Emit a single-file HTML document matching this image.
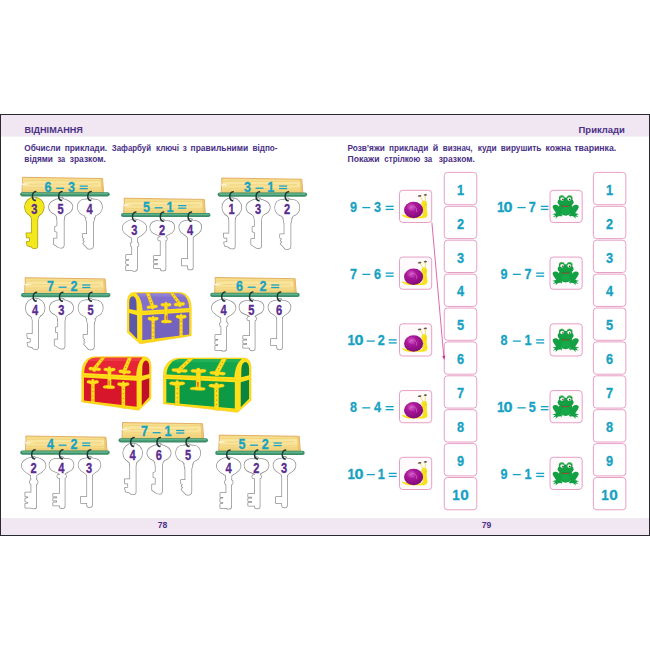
<!DOCTYPE html>
<html lang="uk"><head><meta charset="utf-8"><title>78-79</title>
<style>html,body{margin:0;padding:0;background:#fff;}svg{display:block;}</style></head>
<body>
<svg width="650" height="650" viewBox="0 0 650 650" font-family='"Liberation Sans", sans-serif' font-weight="bold">
<defs>
<linearGradient id="wood" x1="0" y1="0" x2="0" y2="1"><stop offset="0" stop-color="#f3d982"/><stop offset="0.35" stop-color="#f9e7a2"/><stop offset="0.7" stop-color="#f6de90"/><stop offset="1" stop-color="#eecb6e"/></linearGradient>

<g id="kR">
 <circle cx="0" cy="0" r="9.5"/>
 <path d="M-4.6 8 Q-2.6 9.5 -2.6 12 H3 Q3 9.5 5 8 Z"/>
 <path d="M-2.6 8 V26.1 H-8.1 L-7.6 30.3 H-4.6 V34.4 L-7.8 35 L-7 38.4 L-2.6 39.6 Q-2.4 41.2 0.2 41.2 Q3 41.2 3 39 V8 Z"/>
</g>
<g id="kO">
 <ellipse cx="0" cy="0" rx="11.7" ry="8.0"/>
 <circle cx="0.2" cy="-6.9" r="2.6"/>
 <path d="M-7.5 5.5 Q-3.4 8 -3.4 12.5 H3.1 Q3.1 8 7.5 5.5 Z"/>
 <path d="M-3.4 7 V19 L-5.6 19.6 V24.2 L-3.4 24.8 V31.5 H-6.9 V37 L-2 40.3 Q0 41 1.5 40.6 Q3.1 40 3.1 38.5 V7 Z"/>
</g>
<g id="kN">
 <path d="M0 -8.9 C2 -8 3 -7.6 5 -7.6 C9.5 -7.6 12.2 -4 12.2 0 C12.2 4.5 9 8 4.5 8.5 L-4.5 8.5 C-9 8 -12.1 4.5 -12.1 0 C-12.1 -4 -9.5 -7.6 -5 -7.6 C-3 -7.6 -2 -8 0 -8.9 Z"/>
 <path d="M-6 6.5 L-4.2 10.5 L-3.4 10.2 L-3.8 12.2 L-2.8 15.5 H3.3 L4.4 12.4 L3.9 10.4 L4.8 10.6 L6.2 6.5 Z"/>
 <path d="M-2.8 7 V26.9 H-7.1 V30.3 L-5.2 31.5 L-6.6 33 L-5 34.5 L-6.6 36.4 L-1.9 41.3 Q0 41.8 1.6 41.4 Q3.3 40.8 3.3 39 V7 Z"/>
</g>
<g id="kH1">
 <path d="M0 -8.8 C4.5 -8.6 11.9 -6 11.9 -0.2 C11.9 5 5 7.6 2.5 9.4 L-2.6 9.4 C-5 7.6 -11.9 5 -11.9 -0.2 C-11.9 -6 -4.5 -8.6 0 -8.8 Z"/>
 <rect x="-3.7" y="14.0" width="7.6" height="4.2" rx="1.4"/>
 <path d="M-2.7 8.5 V12.6 H-2.4 V26.6 H-8.4 V30.6 H-5.6 V32 L-8.4 32.4 V35.4 L-5.6 36 V37.4 L-8.4 37.8 V41.8 H-2.4 Q-1.6 42.5 0 42.5 Q2.5 42.5 2.5 40.4 V12.6 H2.7 V8.5 Z"/>
</g>
<g id="kH2">
 <path d="M0 -5.6 C1.5 -7.6 6 -7.8 9 -6.4 C12.8 -4.3 13 0.9 10 3.8 C7.5 5.9 4 6.4 3.2 8.0 L-1.7 8.0 C-3.4 6.4 -7.5 5.9 -10 3.8 C-13 0.9 -12.8 -4.3 -9 -6.4 C-6 -7.8 -1.5 -7.6 0 -5.6 Z"/>
 <circle cx="0.2" cy="-6.6" r="2.2"/>
 <rect x="-4.2" y="8.8" width="8.8" height="3.2" rx="1.4"/>
 <path d="M-1.7 7.6 V27.7 H-8.3 V30.5 H-4.5 V32.2 H-8.3 V34.6 H-4.5 V36.4 H-8.3 V39.5 H-1.7 V40.5 Q-1.7 42.2 0.8 42.2 Q3.2 42.2 3.2 40.5 V7.6 Z"/>
</g>
<g id="kH3">
 <path d="M0 -7.8 C3 -7.8 7 -7.6 9.2 -5.8 C12.2 -3 11.8 1.6 8.6 4.4 C6.3 6.4 3.4 7.2 2.6 9.6 L-2.2 9.6 C-3 7.2 -5.9 6.4 -8.2 4.4 C-11.4 1.6 -11.8 -3 -8.8 -5.8 C-6.6 -7.6 -3 -7.8 0 -7.8 Z"/>
 <circle cx="0.2" cy="-7.4" r="2.2"/>
 <path d="M-2.2 9 V30.7 H-8.3 V37 H-2.2 V39.5 Q-2.2 41.1 0.3 41.1 Q2.7 41.1 2.7 39.5 V9 Z"/>
</g>


<radialGradient id="shellg" cx="0.38" cy="0.32" r="0.75">
 <stop offset="0" stop-color="#d65cc6"/><stop offset="0.35" stop-color="#a8179a"/><stop offset="1" stop-color="#7c0872"/>
</radialGradient>
<g id="snail"><g transform="scale(0.064617) translate(-68,-65)">
 <path d="M96 440 C120 444 150 450 190 458 L400 470 C420 462 432 442 432 402 C432 352 408 322 406 282 C404 246 424 224 458 227 C494 232 498 262 492 305 C486 350 494 385 500 420 C508 462 485 494 440 496 L205 496 C160 492 118 476 96 440 Z" fill="#f6e31e"/>
 <path d="M432 236 L388 160" stroke="#e4d32a" stroke-width="10" stroke-linecap="round"/>
 <path d="M470 232 L466 148" stroke="#e4d32a" stroke-width="10" stroke-linecap="round"/>
 <ellipse cx="380" cy="152" rx="28" ry="14" fill="#6b5a45" transform="rotate(-8 380 152)"/>
 <ellipse cx="468" cy="136" rx="26" ry="14" fill="#6b5a45" transform="rotate(-8 468 136)"/>
 <ellipse cx="286" cy="370" rx="148" ry="128" fill="url(#shellg)"/>
 <path d="M228 352 C236 312 290 300 322 340 C336 358 338 380 334 396" fill="none" stroke="#d879cf" stroke-width="11" stroke-linecap="round" opacity="0.85"/>
 <path d="M250 372 C262 348 292 350 300 378" fill="none" stroke="#d879cf" stroke-width="9" stroke-linecap="round" opacity="0.7"/>
 <circle cx="466" cy="280" r="6" fill="#a08a20"/>
 <path d="M452 300 C462 310 474 308 480 298" fill="none" stroke="#c8a818" stroke-width="4"/>
</g></g>
<g id="frog"><g transform="scale(0.064617) translate(-62,-54)">
 <g fill="#12a043">
  <!-- hind legs -->
  <path d="M196 300 C150 262 96 280 104 318 C112 352 150 392 172 430 L236 404 Z"/>
  <path d="M414 300 C460 262 514 280 506 318 C498 352 460 392 438 430 L374 404 Z"/>
  <!-- feet -->
  <path d="M214 398 C170 404 125 414 98 424 L142 438 L106 470 L156 456 L148 492 L188 456 L236 452 L226 474 L256 440 Z"/>
  <path d="M396 398 C440 404 485 414 512 424 L468 438 L504 470 L454 456 L462 492 L422 456 L374 452 L384 474 L354 440 Z"/>
  <ellipse cx="304" cy="338" rx="112" ry="108"/>
  <ellipse cx="304" cy="238" rx="124" ry="74"/>
  <circle cx="244" cy="176" r="44"/>
  <circle cx="366" cy="176" r="44"/>
 </g>
 <path d="M206 160 C220 132 262 128 282 152" fill="none" stroke="#8fd17a" stroke-width="9"/>
 <path d="M330 152 C350 128 392 132 404 160" fill="none" stroke="#8fd17a" stroke-width="9"/>
 <ellipse cx="250" cy="190" rx="30" ry="27" fill="#f4f4ec"/>
 <ellipse cx="360" cy="190" rx="30" ry="27" fill="#f4f4ec"/>
 <circle cx="262" cy="196" r="12" fill="#2a2320"/>
 <circle cx="366" cy="196" r="12" fill="#2a2320"/>
 <path d="M232 286 C262 300 342 300 372 284 C350 322 262 326 232 286 Z" fill="#b1442f"/>
 <path d="M222 280 C260 300 346 300 382 278" fill="none" stroke="#0b7d33" stroke-width="5"/>
 <ellipse cx="304" cy="370" rx="70" ry="56" fill="#18ab4b" opacity="0.7"/>
</g></g>

</defs>
<rect x="0" y="114" width="650" height="422" fill="#2a2a2e"/>
<rect x="1" y="115" width="648" height="420" fill="#ffffff"/>
<rect x="1" y="115" width="648" height="21.6" fill="#f1e7f2"/>
<rect x="1" y="518" width="648" height="17" fill="#f1e7f2"/>
<text x="24.5" y="133" font-size="8.3" fill="#4a2f86" textLength="58.4" lengthAdjust="spacingAndGlyphs">ВІДНІМАННЯ</text>
<text x="578.6" y="133.4" font-size="8.3" fill="#4a2f86" textLength="46.2" lengthAdjust="spacingAndGlyphs">Приклади</text>
<text y="151.1" font-size="8.3" fill="#4a2f86"><tspan x="24.35" textLength="36.20" lengthAdjust="spacingAndGlyphs">Обчисли</tspan><tspan x="64.65" textLength="42.50" lengthAdjust="spacingAndGlyphs">приклади.</tspan><tspan x="111.75" textLength="39.30" lengthAdjust="spacingAndGlyphs">Зафарбуй</tspan><tspan x="155.95" textLength="23.10" lengthAdjust="spacingAndGlyphs">ключі</tspan><tspan x="182.75" textLength="4.10" lengthAdjust="spacingAndGlyphs">з</tspan><tspan x="190.55" textLength="57.70" lengthAdjust="spacingAndGlyphs">правильними</tspan><tspan x="252.45" textLength="25.10" lengthAdjust="spacingAndGlyphs">відпо-</tspan></text>
<text y="162.2" font-size="8.3" fill="#4a2f86"><tspan x="24.35" textLength="28.50" lengthAdjust="spacingAndGlyphs">відями</tspan><tspan x="57.45" textLength="7.70" lengthAdjust="spacingAndGlyphs">за</tspan><tspan x="69.75" textLength="36.10" lengthAdjust="spacingAndGlyphs">зразком.</tspan></text>
<text y="151.1" font-size="8.3" fill="#4a2f86"><tspan x="347.45" textLength="37.40" lengthAdjust="spacingAndGlyphs">Розв’яжи</tspan><tspan x="388.95" textLength="39.30" lengthAdjust="spacingAndGlyphs">приклади</tspan><tspan x="432.65" textLength="5.50" lengthAdjust="spacingAndGlyphs">й</tspan><tspan x="442.85" textLength="29.70" lengthAdjust="spacingAndGlyphs">визнач,</tspan><tspan x="477.75" textLength="19.00" lengthAdjust="spacingAndGlyphs">куди</tspan><tspan x="500.75" textLength="40.70" lengthAdjust="spacingAndGlyphs">вирушить</tspan><tspan x="545.55" textLength="25.50" lengthAdjust="spacingAndGlyphs">кожна</tspan><tspan x="574.25" textLength="42.00" lengthAdjust="spacingAndGlyphs">тваринка.</tspan></text>
<text y="161.9" font-size="8.3" fill="#4a2f86"><tspan x="347.45" textLength="32.00" lengthAdjust="spacingAndGlyphs">Покажи</tspan><tspan x="384.35" textLength="35.90" lengthAdjust="spacingAndGlyphs">стрілкою</tspan><tspan x="424.05" textLength="8.20" lengthAdjust="spacingAndGlyphs">за</tspan><tspan x="438.65" textLength="36.20" lengthAdjust="spacingAndGlyphs">зразком.</tspan></text>
<text x="162.6" y="527.9" font-size="8.6" fill="#4a2f86" text-anchor="middle">78</text>
<text x="486.6" y="527.9" font-size="8.6" fill="#4a2f86" text-anchor="middle">79</text>
<g transform="translate(21.80,177.30)">
<path d="M0.7 0.0 L80.7 1.2 L81.9 15.50 L0.2 15.50 L0.5 8.0 L-0.5 7.2 L0.9 6.2 Z" fill="url(#wood)" stroke="#dd9f50" stroke-width="0.8" stroke-linejoin="round"/>
<path d="M2 3.6 C20 2.2 40 4.4 79.9 3.0 M2 10.6 C25 9.4 50 11.8 79.9 10.4 M8 7.0 C30 6.0 55 7.8 75.9 6.6 M3 12.8 C30 12.2 50 13.4 79.9 12.6" fill="none" stroke="#efcf74" stroke-width="1.0" opacity="0.75"/>
<path d="M78.7 1.3 L80.7 1.3 L81.80000000000001 15.50 L79.5 15.50 Z" fill="#e9bd68" opacity="0.75"/>
<path d="M-0.8 7.1 L5 6.7" stroke="#fff" stroke-width="0.9"/>
</g>
<text transform="translate(48.00,192.00) scale(0.82,1)" text-anchor="middle" font-size="15.3" fill="#17a2c3" stroke="#17a2c3" stroke-width="0.3">6</text>
<rect x="56.20" y="187.65" width="7.90" height="1.3" fill="#17a2c3"/>
<text transform="translate(71.40,192.00) scale(0.82,1)" text-anchor="middle" font-size="15.3" fill="#17a2c3" stroke="#17a2c3" stroke-width="0.3">3</text>
<rect x="79.70" y="185.53" width="8.10" height="1.25" fill="#17a2c3"/><rect x="79.70" y="188.03" width="8.10" height="1.25" fill="#17a2c3"/>
<line x1="22.30" y1="194.30" x2="107.60" y2="194.30" stroke="#3c8e69" stroke-width="4.2" stroke-linecap="round"/>
<line x1="22.50" y1="193.80" x2="107.40" y2="193.80" stroke="#5db28a" stroke-width="1.6" stroke-linecap="round"/>
<use href="#kR" x="34.40" y="207.10" fill="#a99d12" stroke="#a99d12" stroke-width="1.5" stroke-linejoin="round"/>
<use href="#kR" x="34.40" y="207.10" fill="#f3e81e"/>
<circle cx="34.70" cy="198.90" r="1.4" fill="#fff" stroke="#8a8a8a" stroke-width="0.6"/>
<path d="M35.80 191.40 C31.60 191.70 31.20 199.50 35.20 200.50" fill="none" stroke="#1e3836" stroke-width="1.5" stroke-linecap="round"/>
<text transform="translate(34.30,214.10) scale(0.74,1)" text-anchor="middle" font-size="15.0" fill="#5a2c91" stroke="#5a2c91" stroke-width="0.35">3</text>
<use href="#kO" x="60.70" y="207.10" fill="#909090" stroke="#909090" stroke-width="1.5" stroke-linejoin="round"/>
<use href="#kO" x="60.70" y="207.10" fill="#fff"/>
<circle cx="61.00" cy="198.90" r="1.4" fill="#fff" stroke="#8a8a8a" stroke-width="0.6"/>
<path d="M62.10 191.40 C57.90 191.70 57.50 199.50 61.50 200.50" fill="none" stroke="#1e3836" stroke-width="1.5" stroke-linecap="round"/>
<text transform="translate(60.60,214.10) scale(0.74,1)" text-anchor="middle" font-size="15.0" fill="#5a2c91" stroke="#5a2c91" stroke-width="0.35">5</text>
<use href="#kN" x="89.80" y="207.10" fill="#909090" stroke="#909090" stroke-width="1.5" stroke-linejoin="round"/>
<use href="#kN" x="89.80" y="207.10" fill="#fff"/>
<circle cx="90.10" cy="198.90" r="1.4" fill="#fff" stroke="#8a8a8a" stroke-width="0.6"/>
<path d="M91.20 191.40 C87.00 191.70 86.60 199.50 90.60 200.50" fill="none" stroke="#1e3836" stroke-width="1.5" stroke-linecap="round"/>
<text transform="translate(89.70,214.10) scale(0.74,1)" text-anchor="middle" font-size="15.0" fill="#5a2c91" stroke="#5a2c91" stroke-width="0.35">4</text>
<g transform="translate(123.50,198.20)">
<path d="M0.7 0.0 L80.7 1.2 L81.9 15.30 L0.2 15.30 L0.5 8.0 L-0.5 7.2 L0.9 6.2 Z" fill="url(#wood)" stroke="#dd9f50" stroke-width="0.8" stroke-linejoin="round"/>
<path d="M2 3.6 C20 2.2 40 4.4 79.9 3.0 M2 10.6 C25 9.4 50 11.8 79.9 10.4 M8 7.0 C30 6.0 55 7.8 75.9 6.6 M3 12.8 C30 12.2 50 13.4 79.9 12.6" fill="none" stroke="#efcf74" stroke-width="1.0" opacity="0.75"/>
<path d="M78.7 1.3 L80.7 1.3 L81.80000000000001 15.30 L79.5 15.30 Z" fill="#e9bd68" opacity="0.75"/>
<path d="M-0.8 7.1 L5 6.7" stroke="#fff" stroke-width="0.9"/>
</g>
<text transform="translate(146.50,211.50) scale(0.82,1)" text-anchor="middle" font-size="15.3" fill="#17a2c3" stroke="#17a2c3" stroke-width="0.3">5</text>
<rect x="154.70" y="207.15" width="7.90" height="1.3" fill="#17a2c3"/>
<text transform="translate(169.90,211.50) scale(0.82,1)" text-anchor="middle" font-size="15.3" fill="#17a2c3" stroke="#17a2c3" stroke-width="0.3">1</text>
<rect x="178.20" y="205.03" width="8.10" height="1.25" fill="#17a2c3"/><rect x="178.20" y="207.53" width="8.10" height="1.25" fill="#17a2c3"/>
<line x1="123.10" y1="215.00" x2="208.40" y2="215.00" stroke="#3c8e69" stroke-width="4.2" stroke-linecap="round"/>
<line x1="123.30" y1="214.50" x2="208.20" y2="214.50" stroke="#5db28a" stroke-width="1.6" stroke-linecap="round"/>
<use href="#kH1" x="134.50" y="228.40" fill="#909090" stroke="#909090" stroke-width="1.5" stroke-linejoin="round"/>
<use href="#kH1" x="134.50" y="228.40" fill="#fff"/>
<circle cx="134.80" cy="220.20" r="1.4" fill="#fff" stroke="#8a8a8a" stroke-width="0.6"/>
<path d="M135.90 212.10 C131.70 212.40 131.30 220.20 135.30 221.20" fill="none" stroke="#1e3836" stroke-width="1.5" stroke-linecap="round"/>
<text transform="translate(134.40,235.40) scale(0.74,1)" text-anchor="middle" font-size="15.0" fill="#5a2c91" stroke="#5a2c91" stroke-width="0.35">3</text>
<use href="#kH2" x="162.30" y="228.40" fill="#909090" stroke="#909090" stroke-width="1.5" stroke-linejoin="round"/>
<use href="#kH2" x="162.30" y="228.40" fill="#fff"/>
<circle cx="162.60" cy="220.20" r="1.4" fill="#fff" stroke="#8a8a8a" stroke-width="0.6"/>
<path d="M163.70 212.10 C159.50 212.40 159.10 220.20 163.10 221.20" fill="none" stroke="#1e3836" stroke-width="1.5" stroke-linecap="round"/>
<text transform="translate(162.20,235.40) scale(0.74,1)" text-anchor="middle" font-size="15.0" fill="#5a2c91" stroke="#5a2c91" stroke-width="0.35">2</text>
<use href="#kH3" x="190.10" y="228.40" fill="#909090" stroke="#909090" stroke-width="1.5" stroke-linejoin="round"/>
<use href="#kH3" x="190.10" y="228.40" fill="#fff"/>
<circle cx="190.40" cy="220.20" r="1.4" fill="#fff" stroke="#8a8a8a" stroke-width="0.6"/>
<path d="M191.50 212.10 C187.30 212.40 186.90 220.20 190.90 221.20" fill="none" stroke="#1e3836" stroke-width="1.5" stroke-linecap="round"/>
<text transform="translate(190.00,235.40) scale(0.74,1)" text-anchor="middle" font-size="15.0" fill="#5a2c91" stroke="#5a2c91" stroke-width="0.35">4</text>
<g transform="translate(221.00,178.00)">
<path d="M0.7 0.0 L80.7 1.2 L81.9 15.10 L0.2 15.10 L0.5 8.0 L-0.5 7.2 L0.9 6.2 Z" fill="url(#wood)" stroke="#dd9f50" stroke-width="0.8" stroke-linejoin="round"/>
<path d="M2 3.6 C20 2.2 40 4.4 79.9 3.0 M2 10.6 C25 9.4 50 11.8 79.9 10.4 M8 7.0 C30 6.0 55 7.8 75.9 6.6 M3 12.8 C30 12.2 50 13.4 79.9 12.6" fill="none" stroke="#efcf74" stroke-width="1.0" opacity="0.75"/>
<path d="M78.7 1.3 L80.7 1.3 L81.80000000000001 15.10 L79.5 15.10 Z" fill="#e9bd68" opacity="0.75"/>
<path d="M-0.8 7.1 L5 6.7" stroke="#fff" stroke-width="0.9"/>
</g>
<text transform="translate(247.40,191.90) scale(0.82,1)" text-anchor="middle" font-size="15.3" fill="#17a2c3" stroke="#17a2c3" stroke-width="0.3">3</text>
<rect x="255.60" y="187.55" width="7.90" height="1.3" fill="#17a2c3"/>
<text transform="translate(270.80,191.90) scale(0.82,1)" text-anchor="middle" font-size="15.3" fill="#17a2c3" stroke="#17a2c3" stroke-width="0.3">1</text>
<rect x="279.10" y="185.43" width="8.10" height="1.25" fill="#17a2c3"/><rect x="279.10" y="187.93" width="8.10" height="1.25" fill="#17a2c3"/>
<line x1="219.70" y1="194.60" x2="305.00" y2="194.60" stroke="#3c8e69" stroke-width="4.2" stroke-linecap="round"/>
<line x1="219.90" y1="194.10" x2="304.80" y2="194.10" stroke="#5db28a" stroke-width="1.6" stroke-linecap="round"/>
<use href="#kR" x="231.80" y="207.40" fill="#909090" stroke="#909090" stroke-width="1.5" stroke-linejoin="round"/>
<use href="#kR" x="231.80" y="207.40" fill="#fff"/>
<circle cx="232.10" cy="199.20" r="1.4" fill="#fff" stroke="#8a8a8a" stroke-width="0.6"/>
<path d="M233.20 191.70 C229.00 192.00 228.60 199.80 232.60 200.80" fill="none" stroke="#1e3836" stroke-width="1.5" stroke-linecap="round"/>
<text transform="translate(231.70,214.40) scale(0.74,1)" text-anchor="middle" font-size="15.0" fill="#5a2c91" stroke="#5a2c91" stroke-width="0.35">1</text>
<use href="#kO" x="258.10" y="207.40" fill="#909090" stroke="#909090" stroke-width="1.5" stroke-linejoin="round"/>
<use href="#kO" x="258.10" y="207.40" fill="#fff"/>
<circle cx="258.40" cy="199.20" r="1.4" fill="#fff" stroke="#8a8a8a" stroke-width="0.6"/>
<path d="M259.50 191.70 C255.30 192.00 254.90 199.80 258.90 200.80" fill="none" stroke="#1e3836" stroke-width="1.5" stroke-linecap="round"/>
<text transform="translate(258.00,214.40) scale(0.74,1)" text-anchor="middle" font-size="15.0" fill="#5a2c91" stroke="#5a2c91" stroke-width="0.35">3</text>
<use href="#kN" x="287.20" y="207.40" fill="#909090" stroke="#909090" stroke-width="1.5" stroke-linejoin="round"/>
<use href="#kN" x="287.20" y="207.40" fill="#fff"/>
<circle cx="287.50" cy="199.20" r="1.4" fill="#fff" stroke="#8a8a8a" stroke-width="0.6"/>
<path d="M288.60 191.70 C284.40 192.00 284.00 199.80 288.00 200.80" fill="none" stroke="#1e3836" stroke-width="1.5" stroke-linecap="round"/>
<text transform="translate(287.10,214.40) scale(0.74,1)" text-anchor="middle" font-size="15.0" fill="#5a2c91" stroke="#5a2c91" stroke-width="0.35">2</text>
<g transform="translate(24.40,277.70)">
<path d="M0.7 0.0 L80.7 1.2 L81.9 15.90 L0.2 15.90 L0.5 8.0 L-0.5 7.2 L0.9 6.2 Z" fill="url(#wood)" stroke="#dd9f50" stroke-width="0.8" stroke-linejoin="round"/>
<path d="M2 3.6 C20 2.2 40 4.4 79.9 3.0 M2 10.6 C25 9.4 50 11.8 79.9 10.4 M8 7.0 C30 6.0 55 7.8 75.9 6.6 M3 12.8 C30 12.2 50 13.4 79.9 12.6" fill="none" stroke="#efcf74" stroke-width="1.0" opacity="0.75"/>
<path d="M78.7 1.3 L80.7 1.3 L81.80000000000001 15.90 L79.5 15.90 Z" fill="#e9bd68" opacity="0.75"/>
<path d="M-0.8 7.1 L5 6.7" stroke="#fff" stroke-width="0.9"/>
</g>
<text transform="translate(50.50,290.90) scale(0.82,1)" text-anchor="middle" font-size="15.3" fill="#17a2c3" stroke="#17a2c3" stroke-width="0.3">7</text>
<rect x="58.70" y="286.55" width="7.90" height="1.3" fill="#17a2c3"/>
<text transform="translate(73.90,290.90) scale(0.82,1)" text-anchor="middle" font-size="15.3" fill="#17a2c3" stroke="#17a2c3" stroke-width="0.3">2</text>
<rect x="82.20" y="284.42" width="8.10" height="1.25" fill="#17a2c3"/><rect x="82.20" y="286.92" width="8.10" height="1.25" fill="#17a2c3"/>
<line x1="23.10" y1="295.10" x2="108.40" y2="295.10" stroke="#3c8e69" stroke-width="4.2" stroke-linecap="round"/>
<line x1="23.30" y1="294.60" x2="108.20" y2="294.60" stroke="#5db28a" stroke-width="1.6" stroke-linecap="round"/>
<use href="#kR" x="35.20" y="307.90" fill="#909090" stroke="#909090" stroke-width="1.5" stroke-linejoin="round"/>
<use href="#kR" x="35.20" y="307.90" fill="#fff"/>
<circle cx="35.50" cy="299.70" r="1.4" fill="#fff" stroke="#8a8a8a" stroke-width="0.6"/>
<path d="M36.60 292.20 C32.40 292.50 32.00 300.30 36.00 301.30" fill="none" stroke="#1e3836" stroke-width="1.5" stroke-linecap="round"/>
<text transform="translate(35.10,314.90) scale(0.74,1)" text-anchor="middle" font-size="15.0" fill="#5a2c91" stroke="#5a2c91" stroke-width="0.35">4</text>
<use href="#kO" x="61.50" y="307.90" fill="#909090" stroke="#909090" stroke-width="1.5" stroke-linejoin="round"/>
<use href="#kO" x="61.50" y="307.90" fill="#fff"/>
<circle cx="61.80" cy="299.70" r="1.4" fill="#fff" stroke="#8a8a8a" stroke-width="0.6"/>
<path d="M62.90 292.20 C58.70 292.50 58.30 300.30 62.30 301.30" fill="none" stroke="#1e3836" stroke-width="1.5" stroke-linecap="round"/>
<text transform="translate(61.40,314.90) scale(0.74,1)" text-anchor="middle" font-size="15.0" fill="#5a2c91" stroke="#5a2c91" stroke-width="0.35">3</text>
<use href="#kN" x="90.60" y="307.90" fill="#909090" stroke="#909090" stroke-width="1.5" stroke-linejoin="round"/>
<use href="#kN" x="90.60" y="307.90" fill="#fff"/>
<circle cx="90.90" cy="299.70" r="1.4" fill="#fff" stroke="#8a8a8a" stroke-width="0.6"/>
<path d="M92.00 292.20 C87.80 292.50 87.40 300.30 91.40 301.30" fill="none" stroke="#1e3836" stroke-width="1.5" stroke-linecap="round"/>
<text transform="translate(90.50,314.90) scale(0.74,1)" text-anchor="middle" font-size="15.0" fill="#5a2c91" stroke="#5a2c91" stroke-width="0.35">5</text>
<g transform="translate(214.40,277.50)">
<path d="M0.7 0.0 L80.7 1.2 L81.9 15.90 L0.2 15.90 L0.5 8.0 L-0.5 7.2 L0.9 6.2 Z" fill="url(#wood)" stroke="#dd9f50" stroke-width="0.8" stroke-linejoin="round"/>
<path d="M2 3.6 C20 2.2 40 4.4 79.9 3.0 M2 10.6 C25 9.4 50 11.8 79.9 10.4 M8 7.0 C30 6.0 55 7.8 75.9 6.6 M3 12.8 C30 12.2 50 13.4 79.9 12.6" fill="none" stroke="#efcf74" stroke-width="1.0" opacity="0.75"/>
<path d="M78.7 1.3 L80.7 1.3 L81.80000000000001 15.90 L79.5 15.90 Z" fill="#e9bd68" opacity="0.75"/>
<path d="M-0.8 7.1 L5 6.7" stroke="#fff" stroke-width="0.9"/>
</g>
<text transform="translate(239.50,290.90) scale(0.82,1)" text-anchor="middle" font-size="15.3" fill="#17a2c3" stroke="#17a2c3" stroke-width="0.3">6</text>
<rect x="247.70" y="286.55" width="7.90" height="1.3" fill="#17a2c3"/>
<text transform="translate(262.90,290.90) scale(0.82,1)" text-anchor="middle" font-size="15.3" fill="#17a2c3" stroke="#17a2c3" stroke-width="0.3">2</text>
<rect x="271.20" y="284.42" width="8.10" height="1.25" fill="#17a2c3"/><rect x="271.20" y="286.92" width="8.10" height="1.25" fill="#17a2c3"/>
<line x1="212.30" y1="294.90" x2="297.60" y2="294.90" stroke="#3c8e69" stroke-width="4.2" stroke-linecap="round"/>
<line x1="212.50" y1="294.40" x2="297.40" y2="294.40" stroke="#5db28a" stroke-width="1.6" stroke-linecap="round"/>
<use href="#kH1" x="223.70" y="308.30" fill="#909090" stroke="#909090" stroke-width="1.5" stroke-linejoin="round"/>
<use href="#kH1" x="223.70" y="308.30" fill="#fff"/>
<circle cx="224.00" cy="300.10" r="1.4" fill="#fff" stroke="#8a8a8a" stroke-width="0.6"/>
<path d="M225.10 292.00 C220.90 292.30 220.50 300.10 224.50 301.10" fill="none" stroke="#1e3836" stroke-width="1.5" stroke-linecap="round"/>
<text transform="translate(223.60,315.30) scale(0.74,1)" text-anchor="middle" font-size="15.0" fill="#5a2c91" stroke="#5a2c91" stroke-width="0.35">4</text>
<use href="#kH2" x="251.50" y="308.30" fill="#909090" stroke="#909090" stroke-width="1.5" stroke-linejoin="round"/>
<use href="#kH2" x="251.50" y="308.30" fill="#fff"/>
<circle cx="251.80" cy="300.10" r="1.4" fill="#fff" stroke="#8a8a8a" stroke-width="0.6"/>
<path d="M252.90 292.00 C248.70 292.30 248.30 300.10 252.30 301.10" fill="none" stroke="#1e3836" stroke-width="1.5" stroke-linecap="round"/>
<text transform="translate(251.40,315.30) scale(0.74,1)" text-anchor="middle" font-size="15.0" fill="#5a2c91" stroke="#5a2c91" stroke-width="0.35">5</text>
<use href="#kH3" x="279.30" y="308.30" fill="#909090" stroke="#909090" stroke-width="1.5" stroke-linejoin="round"/>
<use href="#kH3" x="279.30" y="308.30" fill="#fff"/>
<circle cx="279.60" cy="300.10" r="1.4" fill="#fff" stroke="#8a8a8a" stroke-width="0.6"/>
<path d="M280.70 292.00 C276.50 292.30 276.10 300.10 280.10 301.10" fill="none" stroke="#1e3836" stroke-width="1.5" stroke-linecap="round"/>
<text transform="translate(279.20,315.30) scale(0.74,1)" text-anchor="middle" font-size="15.0" fill="#5a2c91" stroke="#5a2c91" stroke-width="0.35">6</text>
<g transform="translate(25.20,436.00)">
<path d="M0.7 0.0 L80.7 1.2 L81.9 15.10 L0.2 15.10 L0.5 8.0 L-0.5 7.2 L0.9 6.2 Z" fill="url(#wood)" stroke="#dd9f50" stroke-width="0.8" stroke-linejoin="round"/>
<path d="M2 3.6 C20 2.2 40 4.4 79.9 3.0 M2 10.6 C25 9.4 50 11.8 79.9 10.4 M8 7.0 C30 6.0 55 7.8 75.9 6.6 M3 12.8 C30 12.2 50 13.4 79.9 12.6" fill="none" stroke="#efcf74" stroke-width="1.0" opacity="0.75"/>
<path d="M78.7 1.3 L80.7 1.3 L81.80000000000001 15.10 L79.5 15.10 Z" fill="#e9bd68" opacity="0.75"/>
<path d="M-0.8 7.1 L5 6.7" stroke="#fff" stroke-width="0.9"/>
</g>
<text transform="translate(50.50,448.90) scale(0.82,1)" text-anchor="middle" font-size="15.3" fill="#17a2c3" stroke="#17a2c3" stroke-width="0.3">4</text>
<rect x="58.70" y="444.55" width="7.90" height="1.3" fill="#17a2c3"/>
<text transform="translate(73.90,448.90) scale(0.82,1)" text-anchor="middle" font-size="15.3" fill="#17a2c3" stroke="#17a2c3" stroke-width="0.3">2</text>
<rect x="82.20" y="442.42" width="8.10" height="1.25" fill="#17a2c3"/><rect x="82.20" y="444.92" width="8.10" height="1.25" fill="#17a2c3"/>
<line x1="22.30" y1="452.60" x2="107.60" y2="452.60" stroke="#3c8e69" stroke-width="4.2" stroke-linecap="round"/>
<line x1="22.50" y1="452.10" x2="107.40" y2="452.10" stroke="#5db28a" stroke-width="1.6" stroke-linecap="round"/>
<use href="#kH1" x="33.70" y="466.00" fill="#909090" stroke="#909090" stroke-width="1.5" stroke-linejoin="round"/>
<use href="#kH1" x="33.70" y="466.00" fill="#fff"/>
<circle cx="34.00" cy="457.80" r="1.4" fill="#fff" stroke="#8a8a8a" stroke-width="0.6"/>
<path d="M35.10 449.70 C30.90 450.00 30.50 457.80 34.50 458.80" fill="none" stroke="#1e3836" stroke-width="1.5" stroke-linecap="round"/>
<text transform="translate(33.60,473.00) scale(0.74,1)" text-anchor="middle" font-size="15.0" fill="#5a2c91" stroke="#5a2c91" stroke-width="0.35">2</text>
<use href="#kH2" x="61.50" y="466.00" fill="#909090" stroke="#909090" stroke-width="1.5" stroke-linejoin="round"/>
<use href="#kH2" x="61.50" y="466.00" fill="#fff"/>
<circle cx="61.80" cy="457.80" r="1.4" fill="#fff" stroke="#8a8a8a" stroke-width="0.6"/>
<path d="M62.90 449.70 C58.70 450.00 58.30 457.80 62.30 458.80" fill="none" stroke="#1e3836" stroke-width="1.5" stroke-linecap="round"/>
<text transform="translate(61.40,473.00) scale(0.74,1)" text-anchor="middle" font-size="15.0" fill="#5a2c91" stroke="#5a2c91" stroke-width="0.35">4</text>
<use href="#kH3" x="89.30" y="466.00" fill="#909090" stroke="#909090" stroke-width="1.5" stroke-linejoin="round"/>
<use href="#kH3" x="89.30" y="466.00" fill="#fff"/>
<circle cx="89.60" cy="457.80" r="1.4" fill="#fff" stroke="#8a8a8a" stroke-width="0.6"/>
<path d="M90.70 449.70 C86.50 450.00 86.10 457.80 90.10 458.80" fill="none" stroke="#1e3836" stroke-width="1.5" stroke-linecap="round"/>
<text transform="translate(89.20,473.00) scale(0.74,1)" text-anchor="middle" font-size="15.0" fill="#5a2c91" stroke="#5a2c91" stroke-width="0.35">3</text>
<g transform="translate(121.80,422.50)">
<path d="M0.7 0.0 L80.7 1.2 L81.9 16.30 L0.2 16.30 L0.5 8.0 L-0.5 7.2 L0.9 6.2 Z" fill="url(#wood)" stroke="#dd9f50" stroke-width="0.8" stroke-linejoin="round"/>
<path d="M2 3.6 C20 2.2 40 4.4 79.9 3.0 M2 10.6 C25 9.4 50 11.8 79.9 10.4 M8 7.0 C30 6.0 55 7.8 75.9 6.6 M3 12.8 C30 12.2 50 13.4 79.9 12.6" fill="none" stroke="#efcf74" stroke-width="1.0" opacity="0.75"/>
<path d="M78.7 1.3 L80.7 1.3 L81.80000000000001 16.30 L79.5 16.30 Z" fill="#e9bd68" opacity="0.75"/>
<path d="M-0.8 7.1 L5 6.7" stroke="#fff" stroke-width="0.9"/>
</g>
<text transform="translate(144.50,436.40) scale(0.82,1)" text-anchor="middle" font-size="15.3" fill="#17a2c3" stroke="#17a2c3" stroke-width="0.3">7</text>
<rect x="152.70" y="432.05" width="7.90" height="1.3" fill="#17a2c3"/>
<text transform="translate(167.90,436.40) scale(0.82,1)" text-anchor="middle" font-size="15.3" fill="#17a2c3" stroke="#17a2c3" stroke-width="0.3">1</text>
<rect x="176.20" y="429.92" width="8.10" height="1.25" fill="#17a2c3"/><rect x="176.20" y="432.42" width="8.10" height="1.25" fill="#17a2c3"/>
<line x1="120.60" y1="440.30" x2="205.90" y2="440.30" stroke="#3c8e69" stroke-width="4.2" stroke-linecap="round"/>
<line x1="120.80" y1="439.80" x2="205.70" y2="439.80" stroke="#5db28a" stroke-width="1.6" stroke-linecap="round"/>
<use href="#kR" x="132.70" y="453.10" fill="#909090" stroke="#909090" stroke-width="1.5" stroke-linejoin="round"/>
<use href="#kR" x="132.70" y="453.10" fill="#fff"/>
<circle cx="133.00" cy="444.90" r="1.4" fill="#fff" stroke="#8a8a8a" stroke-width="0.6"/>
<path d="M134.10 437.40 C129.90 437.70 129.50 445.50 133.50 446.50" fill="none" stroke="#1e3836" stroke-width="1.5" stroke-linecap="round"/>
<text transform="translate(132.60,460.10) scale(0.74,1)" text-anchor="middle" font-size="15.0" fill="#5a2c91" stroke="#5a2c91" stroke-width="0.35">4</text>
<use href="#kO" x="159.00" y="453.10" fill="#909090" stroke="#909090" stroke-width="1.5" stroke-linejoin="round"/>
<use href="#kO" x="159.00" y="453.10" fill="#fff"/>
<circle cx="159.30" cy="444.90" r="1.4" fill="#fff" stroke="#8a8a8a" stroke-width="0.6"/>
<path d="M160.40 437.40 C156.20 437.70 155.80 445.50 159.80 446.50" fill="none" stroke="#1e3836" stroke-width="1.5" stroke-linecap="round"/>
<text transform="translate(158.90,460.10) scale(0.74,1)" text-anchor="middle" font-size="15.0" fill="#5a2c91" stroke="#5a2c91" stroke-width="0.35">6</text>
<use href="#kN" x="188.10" y="453.10" fill="#909090" stroke="#909090" stroke-width="1.5" stroke-linejoin="round"/>
<use href="#kN" x="188.10" y="453.10" fill="#fff"/>
<circle cx="188.40" cy="444.90" r="1.4" fill="#fff" stroke="#8a8a8a" stroke-width="0.6"/>
<path d="M189.50 437.40 C185.30 437.70 184.90 445.50 188.90 446.50" fill="none" stroke="#1e3836" stroke-width="1.5" stroke-linecap="round"/>
<text transform="translate(188.00,460.10) scale(0.74,1)" text-anchor="middle" font-size="15.0" fill="#5a2c91" stroke="#5a2c91" stroke-width="0.35">5</text>
<g transform="translate(218.50,435.10)">
<path d="M0.7 0.0 L80.7 1.2 L81.9 16.30 L0.2 16.30 L0.5 8.0 L-0.5 7.2 L0.9 6.2 Z" fill="url(#wood)" stroke="#dd9f50" stroke-width="0.8" stroke-linejoin="round"/>
<path d="M2 3.6 C20 2.2 40 4.4 79.9 3.0 M2 10.6 C25 9.4 50 11.8 79.9 10.4 M8 7.0 C30 6.0 55 7.8 75.9 6.6 M3 12.8 C30 12.2 50 13.4 79.9 12.6" fill="none" stroke="#efcf74" stroke-width="1.0" opacity="0.75"/>
<path d="M78.7 1.3 L80.7 1.3 L81.80000000000001 16.30 L79.5 16.30 Z" fill="#e9bd68" opacity="0.75"/>
<path d="M-0.8 7.1 L5 6.7" stroke="#fff" stroke-width="0.9"/>
</g>
<text transform="translate(241.90,448.90) scale(0.82,1)" text-anchor="middle" font-size="15.3" fill="#17a2c3" stroke="#17a2c3" stroke-width="0.3">5</text>
<rect x="250.10" y="444.55" width="7.90" height="1.3" fill="#17a2c3"/>
<text transform="translate(265.30,448.90) scale(0.82,1)" text-anchor="middle" font-size="15.3" fill="#17a2c3" stroke="#17a2c3" stroke-width="0.3">2</text>
<rect x="273.60" y="442.42" width="8.10" height="1.25" fill="#17a2c3"/><rect x="273.60" y="444.92" width="8.10" height="1.25" fill="#17a2c3"/>
<line x1="217.30" y1="452.90" x2="302.60" y2="452.90" stroke="#3c8e69" stroke-width="4.2" stroke-linecap="round"/>
<line x1="217.50" y1="452.40" x2="302.40" y2="452.40" stroke="#5db28a" stroke-width="1.6" stroke-linecap="round"/>
<use href="#kH1" x="228.70" y="466.30" fill="#909090" stroke="#909090" stroke-width="1.5" stroke-linejoin="round"/>
<use href="#kH1" x="228.70" y="466.30" fill="#fff"/>
<circle cx="229.00" cy="458.10" r="1.4" fill="#fff" stroke="#8a8a8a" stroke-width="0.6"/>
<path d="M230.10 450.00 C225.90 450.30 225.50 458.10 229.50 459.10" fill="none" stroke="#1e3836" stroke-width="1.5" stroke-linecap="round"/>
<text transform="translate(228.60,473.30) scale(0.74,1)" text-anchor="middle" font-size="15.0" fill="#5a2c91" stroke="#5a2c91" stroke-width="0.35">4</text>
<use href="#kH2" x="256.50" y="466.30" fill="#909090" stroke="#909090" stroke-width="1.5" stroke-linejoin="round"/>
<use href="#kH2" x="256.50" y="466.30" fill="#fff"/>
<circle cx="256.80" cy="458.10" r="1.4" fill="#fff" stroke="#8a8a8a" stroke-width="0.6"/>
<path d="M257.90 450.00 C253.70 450.30 253.30 458.10 257.30 459.10" fill="none" stroke="#1e3836" stroke-width="1.5" stroke-linecap="round"/>
<text transform="translate(256.40,473.30) scale(0.74,1)" text-anchor="middle" font-size="15.0" fill="#5a2c91" stroke="#5a2c91" stroke-width="0.35">2</text>
<use href="#kH3" x="284.30" y="466.30" fill="#909090" stroke="#909090" stroke-width="1.5" stroke-linejoin="round"/>
<use href="#kH3" x="284.30" y="466.30" fill="#fff"/>
<circle cx="284.60" cy="458.10" r="1.4" fill="#fff" stroke="#8a8a8a" stroke-width="0.6"/>
<path d="M285.70 450.00 C281.50 450.30 281.10 458.10 285.10 459.10" fill="none" stroke="#1e3836" stroke-width="1.5" stroke-linecap="round"/>
<text transform="translate(284.20,473.30) scale(0.74,1)" text-anchor="middle" font-size="15.0" fill="#5a2c91" stroke="#5a2c91" stroke-width="0.35">3</text>
<g>
<path d="M 127.40 332.61 L 127.40 302.53 C 127.40 296.06 129.88 292.50 134.19 292.50 L 179.37 292.50 C 186.36 292.50 191.20 298.21 191.20 307.92 L 191.20 335.74 L 140.12 343.82 Z" fill="#ffe01a" stroke="#f0bd00" stroke-width="0.5" stroke-linejoin="round"/>
<path d="M 129.23 308.89 L 129.23 302.53 C 129.23 298.75 130.42 296.38 132.79 296.17 C 134.95 296.38 136.35 299.29 136.46 303.07 L 136.67 310.61 Z" fill="#5b57aa"/>
<path d="M 129.23 312.99 L 137.10 315.36 L 137.10 339.08 L 129.23 331.10 Z" fill="#5b57aa"/>
<path d="M 142.60 310.72 C 142.28 303.07 140.12 296.60 136.35 293.47 L 178.83 293.47 C 184.86 293.90 188.73 298.97 189.16 308.03 Z" fill="#8270cc"/>
<path d="M 136.35 293.47 L 178.83 293.47 C 182.06 293.69 184.43 294.87 185.93 296.60 L 139.15 296.60 C 138.40 295.41 137.32 294.33 136.35 293.47 Z" fill="#8f7fd6"/>
<path d="M 142.28 315.36 L 189.26 312.34 L 189.26 334.44 L 142.28 340.27 Z" fill="#7462bf"/>
<path d="M 141.20 312.99 L 191.20 310.08" stroke="#f0bd00" stroke-width="0.5" fill="none" opacity="0.7"/>
<path d="M 140.12 342.21 L 191.20 334.98" stroke="#f0bd00" stroke-width="0.5" fill="none" opacity="0.7"/>
<path d="M 151.63 319.24 L 154.64 319.24 L 154.64 341.56 L 151.63 341.99 Z" fill="#ffe01a" stroke="#f2b705" stroke-width="0.3"/>
<path d="M 147.76 318.81 C 147.54 316.65 150.88 316.87 151.85 317.51 C 151.95 315.36 154.32 315.36 154.43 317.51 C 155.39 316.87 158.73 316.65 158.51 318.81 C 158.30 320.53 155.82 320.10 154.75 320.86 L 151.52 320.86 C 150.45 320.10 147.97 320.53 147.76 318.81 Z" fill="#ffe01a" stroke="#f2b705" stroke-width="0.3"/>
<path d="M 179.59 317.08 L 182.60 317.08 L 182.60 336.82 L 179.59 337.25 Z" fill="#ffe01a" stroke="#f2b705" stroke-width="0.3"/>
<path d="M 175.82 316.65 C 175.61 314.50 178.94 314.71 179.91 315.36 C 180.02 313.20 182.38 313.20 182.49 315.36 C 183.46 314.71 186.79 314.50 186.58 316.65 C 186.36 318.38 183.89 317.95 182.81 318.70 L 179.59 318.70 C 178.51 317.95 176.04 318.38 175.82 316.65 Z" fill="#ffe01a" stroke="#f2b705" stroke-width="0.3"/>
<path d="M 146.04 293.36 L 149.37 293.36 L 154.32 305.76 L 150.88 306.30 Z" fill="#ffe01a" stroke="#f2b705" stroke-width="0.3"/>
<path d="M 146.79 307.38 C 146.58 305.44 149.80 305.65 150.88 305.76 L 154.32 305.01 C 155.72 304.79 157.76 304.79 157.65 306.52 C 157.54 308.46 155.39 308.03 154.32 308.03 C 154.10 309.97 151.31 309.97 151.09 308.24 C 149.80 308.78 147.01 309.32 146.79 307.38 Z" fill="#ffe01a" stroke="#f2b705" stroke-width="0.3"/>
<path d="M 170.23 293.36 L 173.67 293.36 L 181.09 303.07 L 177.76 303.71 Z" fill="#ffe01a" stroke="#f2b705" stroke-width="0.3"/>
<path d="M 174.00 304.79 C 173.78 302.85 177.01 303.07 178.08 303.17 L 181.52 302.42 C 182.92 302.20 184.96 302.20 184.86 303.93 C 184.75 305.87 182.60 305.44 181.52 305.44 C 181.31 307.38 178.51 307.38 178.30 305.65 C 177.01 306.19 174.21 306.73 174.00 304.79 Z" fill="#ffe01a" stroke="#f2b705" stroke-width="0.3"/>
<path d="M 160.66 304.79 C 160.45 302.85 163.78 303.07 164.53 303.61 C 164.64 301.34 167.44 301.34 167.54 303.61 C 168.51 302.96 171.42 302.85 171.20 304.79 C 170.98 306.52 168.62 306.09 167.65 306.73 L 164.21 306.73 C 163.24 306.09 160.88 306.52 160.66 304.79 Z" fill="#ffe01a" stroke="#f2b705" stroke-width="0.3"/>
<path d="M 164.43 305.76 L 167.54 305.76 L 167.54 320.86 L 164.43 320.86 Z" fill="#ffe01a" stroke="#f2b705" stroke-width="0.3"/>
<path d="M 161.20 321.61 C 161.20 320.10 163.78 320.32 164.43 320.10 L 167.54 319.89 C 168.62 320.10 171.74 319.89 171.74 321.40 C 171.74 323.34 168.62 322.69 167.54 323.01 L 164.43 323.23 C 163.78 323.01 161.20 323.55 161.20 321.61 Z" fill="#ffe01a" stroke="#f2b705" stroke-width="0.3"/>
<path d="M 165.82 315.14 L 166.79 315.14 L 166.68 319.67 L 165.93 319.67 Z" fill="#e0452a"/>
<circle cx="153.14" cy="323.55" r="0.55" fill="#c9780a"/>
<circle cx="153.14" cy="327.87" r="0.55" fill="#c9780a"/>
<circle cx="153.14" cy="332.18" r="0.55" fill="#c9780a"/>
<circle cx="153.14" cy="336.49" r="0.55" fill="#c9780a"/>
<circle cx="181.09" cy="321.40" r="0.55" fill="#c9780a"/>
<circle cx="181.09" cy="325.71" r="0.55" fill="#c9780a"/>
<circle cx="181.09" cy="330.02" r="0.55" fill="#c9780a"/>
<circle cx="181.09" cy="333.80" r="0.55" fill="#c9780a"/>
<circle cx="148.94" cy="296.60" r="0.55" fill="#c9780a"/>
<circle cx="150.12" cy="299.62" r="0.55" fill="#c9780a"/>
<circle cx="151.42" cy="302.64" r="0.55" fill="#c9780a"/>
<circle cx="173.67" cy="295.73" r="0.55" fill="#c9780a"/>
<circle cx="175.61" cy="298.32" r="0.55" fill="#c9780a"/>
<circle cx="177.76" cy="301.13" r="0.55" fill="#c9780a"/>
</g>
<g>
<path d="M 151.00 398.64 L 151.00 367.26 C 151.00 360.51 148.63 356.80 144.50 356.80 L 95.05 356.80 C 87.22 356.80 81.80 362.76 81.80 372.88 L 81.80 401.90 L 138.83 410.34 Z" fill="#ffe01a" stroke="#f0bd00" stroke-width="0.5" stroke-linejoin="round"/>
<path d="M 149.25 373.90 L 149.25 367.26 C 149.25 363.32 148.11 360.85 145.84 360.62 C 143.78 360.85 142.44 363.89 142.34 367.82 L 142.13 375.70 Z" fill="#c00f28"/>
<path d="M 149.25 378.17 L 141.72 380.64 L 141.72 405.39 L 149.25 397.07 Z" fill="#c00f28"/>
<path d="M 136.23 375.81 C 136.60 367.82 138.83 361.07 142.44 357.81 L 95.65 357.81 C 88.91 358.26 84.57 363.55 84.09 373.00 Z" fill="#e62636"/>
<path d="M 142.44 357.81 L 95.65 357.81 C 92.04 358.04 89.39 359.27 87.70 361.07 L 139.76 361.07 C 140.48 359.84 141.51 358.71 142.44 357.81 Z" fill="#ee3a44"/>
<path d="M 136.60 380.64 L 83.97 377.50 L 83.97 400.55 L 136.60 406.63 Z" fill="#d8162b"/>
<path d="M 137.80 378.17 L 81.80 375.13" stroke="#f0bd00" stroke-width="0.5" fill="none" opacity="0.7"/>
<path d="M 138.83 408.65 L 81.80 401.11" stroke="#f0bd00" stroke-width="0.5" fill="none" opacity="0.7"/>
<path d="M 125.03 384.69 L 121.66 384.69 L 121.66 407.98 L 125.03 408.43 Z" fill="#ffe01a" stroke="#f2b705" stroke-width="0.3"/>
<path d="M 129.37 384.24 C 129.61 381.99 125.88 382.22 124.79 382.89 C 124.67 380.64 122.02 380.64 121.90 382.89 C 120.82 382.22 117.09 381.99 117.33 384.24 C 117.57 386.04 120.34 385.59 121.54 386.38 L 125.15 386.38 C 126.36 385.59 129.13 386.04 129.37 384.24 Z" fill="#ffe01a" stroke="#f2b705" stroke-width="0.3"/>
<path d="M 94.57 382.44 L 91.19 382.44 L 91.19 403.03 L 94.57 403.48 Z" fill="#ffe01a" stroke="#f2b705" stroke-width="0.3"/>
<path d="M 98.78 381.99 C 99.02 379.74 95.29 379.97 94.20 380.64 C 94.08 378.39 91.43 378.39 91.31 380.64 C 90.23 379.97 86.50 379.74 86.74 381.99 C 86.98 383.79 89.75 383.34 90.95 384.13 L 94.57 384.13 C 95.77 383.34 98.54 383.79 98.78 381.99 Z" fill="#ffe01a" stroke="#f2b705" stroke-width="0.3"/>
<path d="M 131.66 357.70 L 127.92 357.70 L 122.38 370.63 L 126.24 371.20 Z" fill="#ffe01a" stroke="#f2b705" stroke-width="0.3"/>
<path d="M 130.82 372.32 C 131.06 370.30 127.44 370.52 126.24 370.63 L 122.38 369.85 C 120.82 369.62 118.53 369.62 118.65 371.42 C 118.77 373.45 121.18 373.00 122.38 373.00 C 122.63 375.02 125.76 375.02 126.00 373.22 C 127.44 373.78 130.57 374.35 130.82 372.32 Z" fill="#ffe01a" stroke="#f2b705" stroke-width="0.3"/>
<path d="M 105.04 357.70 L 101.19 357.70 L 92.88 367.82 L 96.61 368.50 Z" fill="#ffe01a" stroke="#f2b705" stroke-width="0.3"/>
<path d="M 100.83 369.62 C 101.07 367.60 97.46 367.82 96.25 367.93 L 92.40 367.15 C 90.83 366.92 88.54 366.92 88.66 368.72 C 88.78 370.75 91.19 370.30 92.40 370.30 C 92.64 372.32 95.77 372.32 96.01 370.52 C 97.46 371.08 100.59 371.65 100.83 369.62 Z" fill="#ffe01a" stroke="#f2b705" stroke-width="0.3"/>
<path d="M 115.40 369.62 C 115.64 367.60 111.91 367.82 111.06 368.38 C 110.94 366.02 107.81 366.02 107.69 368.38 C 106.61 367.71 103.36 367.60 103.60 369.62 C 103.84 371.42 106.49 370.97 107.57 371.65 L 111.43 371.65 C 112.51 370.97 115.16 371.42 115.40 369.62 Z" fill="#ffe01a" stroke="#f2b705" stroke-width="0.3"/>
<path d="M 111.18 370.63 L 107.69 370.63 L 107.69 386.38 L 111.18 386.38 Z" fill="#ffe01a" stroke="#f2b705" stroke-width="0.3"/>
<path d="M 114.80 387.17 C 114.80 385.59 111.91 385.82 111.18 385.59 L 107.69 385.37 C 106.49 385.59 103.00 385.37 103.00 386.94 C 103.00 388.97 106.49 388.29 107.69 388.63 L 111.18 388.85 C 111.91 388.63 114.80 389.19 114.80 387.17 Z" fill="#ffe01a" stroke="#f2b705" stroke-width="0.3"/>
<path d="M 109.62 380.42 L 108.54 380.42 L 108.66 385.14 L 109.50 385.14 Z" fill="#e0452a"/>
<circle cx="123.35" cy="389.19" r="0.55" fill="#c9780a"/>
<circle cx="123.35" cy="393.69" r="0.55" fill="#c9780a"/>
<circle cx="123.35" cy="398.19" r="0.55" fill="#c9780a"/>
<circle cx="123.35" cy="402.69" r="0.55" fill="#c9780a"/>
<circle cx="92.88" cy="386.94" r="0.55" fill="#c9780a"/>
<circle cx="92.88" cy="391.44" r="0.55" fill="#c9780a"/>
<circle cx="92.88" cy="395.94" r="0.55" fill="#c9780a"/>
<circle cx="92.88" cy="399.88" r="0.55" fill="#c9780a"/>
<circle cx="128.41" cy="361.07" r="0.55" fill="#c9780a"/>
<circle cx="127.08" cy="364.22" r="0.55" fill="#c9780a"/>
<circle cx="125.64" cy="367.37" r="0.55" fill="#c9780a"/>
<circle cx="101.19" cy="360.17" r="0.55" fill="#c9780a"/>
<circle cx="99.02" cy="362.87" r="0.55" fill="#c9780a"/>
<circle cx="96.61" cy="365.80" r="0.55" fill="#c9780a"/>
</g>
<g>
<path d="M 251.00 400.47 L 251.00 368.62 C 251.00 361.77 248.38 358.00 243.81 358.00 L 180.75 358.00 C 170.55 358.00 163.50 364.05 163.50 374.33 L 163.50 403.78 L 237.54 412.34 Z" fill="#ffe01a" stroke="#f0bd00" stroke-width="0.5" stroke-linejoin="round"/>
<path d="M 249.06 375.35 L 249.06 368.62 C 249.06 364.62 247.81 362.11 245.30 361.88 C 243.02 362.11 241.53 365.19 241.42 369.19 L 241.19 377.18 Z" fill="#0a8540"/>
<path d="M 249.06 379.69 L 240.73 382.20 L 240.73 407.32 L 249.06 398.87 Z" fill="#0a8540"/>
<path d="M 234.36 377.29 C 234.83 369.19 237.54 362.34 241.53 359.03 L 181.53 359.03 C 172.75 359.48 167.11 364.85 166.48 374.44 Z" fill="#12a54c"/>
<path d="M 241.53 359.03 L 181.53 359.03 C 176.83 359.26 173.38 360.51 171.18 362.34 L 238.57 362.34 C 239.37 361.08 240.51 359.94 241.53 359.03 Z" fill="#22b058"/>
<path d="M 234.83 382.20 L 166.32 379.01 L 166.32 402.41 L 234.83 408.58 Z" fill="#0c9a45"/>
<path d="M 236.40 379.69 L 163.50 376.61" stroke="#f0bd00" stroke-width="0.5" fill="none" opacity="0.7"/>
<path d="M 237.54 410.63 L 163.50 402.98" stroke="#f0bd00" stroke-width="0.5" fill="none" opacity="0.7"/>
<path d="M 218.68 386.31 L 214.29 386.31 L 214.29 409.95 L 218.68 410.40 Z" fill="#ffe01a" stroke="#f2b705" stroke-width="0.3"/>
<path d="M 224.33 385.86 C 224.64 383.57 219.78 383.80 218.37 384.49 C 218.21 382.20 214.77 382.20 214.61 384.49 C 213.20 383.80 208.34 383.57 208.65 385.86 C 208.96 387.68 212.57 387.23 214.14 388.03 L 218.84 388.03 C 220.41 387.23 224.01 387.68 224.33 385.86 Z" fill="#ffe01a" stroke="#f2b705" stroke-width="0.3"/>
<path d="M 179.49 384.03 L 175.10 384.03 L 175.10 404.92 L 179.49 405.38 Z" fill="#ffe01a" stroke="#f2b705" stroke-width="0.3"/>
<path d="M 184.98 383.57 C 185.29 381.29 180.43 381.52 179.02 382.20 C 178.86 379.92 175.41 379.92 175.26 382.20 C 173.85 381.52 168.99 381.29 169.30 383.57 C 169.61 385.40 173.22 384.94 174.79 385.74 L 179.49 385.74 C 181.06 384.94 184.66 385.40 184.98 383.57 Z" fill="#ffe01a" stroke="#f2b705" stroke-width="0.3"/>
<path d="M 226.52 358.91 L 221.66 358.91 L 214.45 372.04 L 219.47 372.61 Z" fill="#ffe01a" stroke="#f2b705" stroke-width="0.3"/>
<path d="M 225.43 373.75 C 225.74 371.70 221.04 371.93 219.47 372.04 L 214.45 371.24 C 212.41 371.01 209.43 371.01 209.59 372.84 C 209.75 374.90 212.88 374.44 214.45 374.44 C 214.77 376.49 218.84 376.49 219.15 374.67 C 221.04 375.24 225.11 375.81 225.43 373.75 Z" fill="#ffe01a" stroke="#f2b705" stroke-width="0.3"/>
<path d="M 192.97 358.91 L 187.96 358.91 L 177.14 369.19 L 182.00 369.87 Z" fill="#ffe01a" stroke="#f2b705" stroke-width="0.3"/>
<path d="M 187.49 371.01 C 187.80 368.96 183.10 369.19 181.53 369.30 L 176.51 368.50 C 174.47 368.27 171.50 368.27 171.65 370.10 C 171.81 372.16 174.94 371.70 176.51 371.70 C 176.83 373.75 180.90 373.75 181.22 371.93 C 183.10 372.50 187.17 373.07 187.49 371.01 Z" fill="#ffe01a" stroke="#f2b705" stroke-width="0.3"/>
<path d="M 206.14 371.01 C 206.46 368.96 201.60 369.19 200.50 369.76 C 200.34 367.36 196.27 367.36 196.11 369.76 C 194.70 369.07 190.47 368.96 190.78 371.01 C 191.09 372.84 194.54 372.38 195.95 373.07 L 200.97 373.07 C 202.38 372.38 205.83 372.84 206.14 371.01 Z" fill="#ffe01a" stroke="#f2b705" stroke-width="0.3"/>
<path d="M 200.66 372.04 L 196.11 372.04 L 196.11 388.03 L 200.66 388.03 Z" fill="#ffe01a" stroke="#f2b705" stroke-width="0.3"/>
<path d="M 205.36 388.82 C 205.36 387.23 201.60 387.45 200.66 387.23 L 196.11 387.00 C 194.54 387.23 189.99 387.00 189.99 388.60 C 189.99 390.65 194.54 389.97 196.11 390.31 L 200.66 390.54 C 201.60 390.31 205.36 390.88 205.36 388.82 Z" fill="#ffe01a" stroke="#f2b705" stroke-width="0.3"/>
<path d="M 198.62 381.97 L 197.21 381.97 L 197.36 386.77 L 198.46 386.77 Z" fill="#e0452a"/>
<circle cx="216.49" cy="390.88" r="0.55" fill="#c9780a"/>
<circle cx="216.49" cy="395.45" r="0.55" fill="#c9780a"/>
<circle cx="216.49" cy="400.01" r="0.55" fill="#c9780a"/>
<circle cx="216.49" cy="404.58" r="0.55" fill="#c9780a"/>
<circle cx="177.30" cy="388.60" r="0.55" fill="#c9780a"/>
<circle cx="177.30" cy="393.16" r="0.55" fill="#c9780a"/>
<circle cx="177.30" cy="397.73" r="0.55" fill="#c9780a"/>
<circle cx="177.30" cy="401.73" r="0.55" fill="#c9780a"/>
<circle cx="222.29" cy="362.34" r="0.55" fill="#c9780a"/>
<circle cx="220.57" cy="365.53" r="0.55" fill="#c9780a"/>
<circle cx="218.68" cy="368.73" r="0.55" fill="#c9780a"/>
<circle cx="187.96" cy="361.42" r="0.55" fill="#c9780a"/>
<circle cx="185.13" cy="364.16" r="0.55" fill="#c9780a"/>
<circle cx="182.00" cy="367.13" r="0.55" fill="#c9780a"/>
</g>
<rect x="444.25" y="172.40" width="32.5" height="32.3" rx="3.2" fill="#fff" stroke="#e088b7" stroke-width="0.8"/>
<text transform="translate(460.55,194.70) scale(0.86,1)" text-anchor="middle" font-size="14.8" fill="#17a2c3" stroke="#17a2c3" stroke-width="0.3">1</text>
<rect x="444.25" y="206.30" width="32.5" height="32.3" rx="3.2" fill="#fff" stroke="#e088b7" stroke-width="0.8"/>
<text transform="translate(460.55,228.60) scale(0.86,1)" text-anchor="middle" font-size="14.8" fill="#17a2c3" stroke="#17a2c3" stroke-width="0.3">2</text>
<rect x="444.25" y="240.20" width="32.5" height="32.3" rx="3.2" fill="#fff" stroke="#e088b7" stroke-width="0.8"/>
<text transform="translate(460.55,262.50) scale(0.86,1)" text-anchor="middle" font-size="14.8" fill="#17a2c3" stroke="#17a2c3" stroke-width="0.3">3</text>
<rect x="444.25" y="274.10" width="32.5" height="32.3" rx="3.2" fill="#fff" stroke="#e088b7" stroke-width="0.8"/>
<text transform="translate(460.55,296.40) scale(0.86,1)" text-anchor="middle" font-size="14.8" fill="#17a2c3" stroke="#17a2c3" stroke-width="0.3">4</text>
<rect x="444.25" y="308.00" width="32.5" height="32.3" rx="3.2" fill="#fff" stroke="#e088b7" stroke-width="0.8"/>
<text transform="translate(460.55,330.30) scale(0.86,1)" text-anchor="middle" font-size="14.8" fill="#17a2c3" stroke="#17a2c3" stroke-width="0.3">5</text>
<rect x="444.25" y="341.90" width="32.5" height="32.3" rx="3.2" fill="#fff" stroke="#e088b7" stroke-width="0.8"/>
<text transform="translate(460.55,364.20) scale(0.86,1)" text-anchor="middle" font-size="14.8" fill="#17a2c3" stroke="#17a2c3" stroke-width="0.3">6</text>
<rect x="444.25" y="375.80" width="32.5" height="32.3" rx="3.2" fill="#fff" stroke="#e088b7" stroke-width="0.8"/>
<text transform="translate(460.55,398.10) scale(0.86,1)" text-anchor="middle" font-size="14.8" fill="#17a2c3" stroke="#17a2c3" stroke-width="0.3">7</text>
<rect x="444.25" y="409.70" width="32.5" height="32.3" rx="3.2" fill="#fff" stroke="#e088b7" stroke-width="0.8"/>
<text transform="translate(460.55,432.00) scale(0.86,1)" text-anchor="middle" font-size="14.8" fill="#17a2c3" stroke="#17a2c3" stroke-width="0.3">8</text>
<rect x="444.25" y="443.60" width="32.5" height="32.3" rx="3.2" fill="#fff" stroke="#e088b7" stroke-width="0.8"/>
<text transform="translate(460.55,465.90) scale(0.86,1)" text-anchor="middle" font-size="14.8" fill="#17a2c3" stroke="#17a2c3" stroke-width="0.3">9</text>
<rect x="444.25" y="477.50" width="32.5" height="32.3" rx="3.2" fill="#fff" stroke="#e088b7" stroke-width="0.8"/>
<text transform="translate(455.95,499.50) scale(0.9,1)" text-anchor="middle" font-size="14.8" fill="#17a2c3" stroke="#17a2c3" stroke-width="0.3">1</text>
<text transform="translate(464.45,499.50) scale(1.04,1)" text-anchor="middle" font-size="14.8" fill="#17a2c3" stroke="#17a2c3" stroke-width="0.3">0</text>
<rect x="593.35" y="172.40" width="32.5" height="32.3" rx="3.2" fill="#fff" stroke="#e088b7" stroke-width="0.8"/>
<text transform="translate(609.65,194.70) scale(0.86,1)" text-anchor="middle" font-size="14.8" fill="#17a2c3" stroke="#17a2c3" stroke-width="0.3">1</text>
<rect x="593.35" y="206.30" width="32.5" height="32.3" rx="3.2" fill="#fff" stroke="#e088b7" stroke-width="0.8"/>
<text transform="translate(609.65,228.60) scale(0.86,1)" text-anchor="middle" font-size="14.8" fill="#17a2c3" stroke="#17a2c3" stroke-width="0.3">2</text>
<rect x="593.35" y="240.20" width="32.5" height="32.3" rx="3.2" fill="#fff" stroke="#e088b7" stroke-width="0.8"/>
<text transform="translate(609.65,262.50) scale(0.86,1)" text-anchor="middle" font-size="14.8" fill="#17a2c3" stroke="#17a2c3" stroke-width="0.3">3</text>
<rect x="593.35" y="274.10" width="32.5" height="32.3" rx="3.2" fill="#fff" stroke="#e088b7" stroke-width="0.8"/>
<text transform="translate(609.65,296.40) scale(0.86,1)" text-anchor="middle" font-size="14.8" fill="#17a2c3" stroke="#17a2c3" stroke-width="0.3">4</text>
<rect x="593.35" y="308.00" width="32.5" height="32.3" rx="3.2" fill="#fff" stroke="#e088b7" stroke-width="0.8"/>
<text transform="translate(609.65,330.30) scale(0.86,1)" text-anchor="middle" font-size="14.8" fill="#17a2c3" stroke="#17a2c3" stroke-width="0.3">5</text>
<rect x="593.35" y="341.90" width="32.5" height="32.3" rx="3.2" fill="#fff" stroke="#e088b7" stroke-width="0.8"/>
<text transform="translate(609.65,364.20) scale(0.86,1)" text-anchor="middle" font-size="14.8" fill="#17a2c3" stroke="#17a2c3" stroke-width="0.3">6</text>
<rect x="593.35" y="375.80" width="32.5" height="32.3" rx="3.2" fill="#fff" stroke="#e088b7" stroke-width="0.8"/>
<text transform="translate(609.65,398.10) scale(0.86,1)" text-anchor="middle" font-size="14.8" fill="#17a2c3" stroke="#17a2c3" stroke-width="0.3">7</text>
<rect x="593.35" y="409.70" width="32.5" height="32.3" rx="3.2" fill="#fff" stroke="#e088b7" stroke-width="0.8"/>
<text transform="translate(609.65,432.00) scale(0.86,1)" text-anchor="middle" font-size="14.8" fill="#17a2c3" stroke="#17a2c3" stroke-width="0.3">8</text>
<rect x="593.35" y="443.60" width="32.5" height="32.3" rx="3.2" fill="#fff" stroke="#e088b7" stroke-width="0.8"/>
<text transform="translate(609.65,465.90) scale(0.86,1)" text-anchor="middle" font-size="14.8" fill="#17a2c3" stroke="#17a2c3" stroke-width="0.3">9</text>
<rect x="593.35" y="477.50" width="32.5" height="32.3" rx="3.2" fill="#fff" stroke="#e088b7" stroke-width="0.8"/>
<text transform="translate(605.05,499.50) scale(0.9,1)" text-anchor="middle" font-size="14.8" fill="#17a2c3" stroke="#17a2c3" stroke-width="0.3">1</text>
<text transform="translate(613.55,499.50) scale(1.04,1)" text-anchor="middle" font-size="14.8" fill="#17a2c3" stroke="#17a2c3" stroke-width="0.3">0</text>
<rect x="399.50" y="190.30" width="32.2" height="32.2" rx="3.2" fill="#fffafc" stroke="#e088b7" stroke-width="0.8"/>
<use href="#snail" x="399.50" y="190.30"/>
<text transform="translate(353.50,211.80) scale(0.84,1)" text-anchor="middle" font-size="15.0" fill="#17a2c3" stroke="#17a2c3" stroke-width="0.3">9</text>
<rect x="362.30" y="206.95" width="8.00" height="1.3" fill="#17a2c3"/>
<text transform="translate(377.60,211.80) scale(0.84,1)" text-anchor="middle" font-size="15.0" fill="#17a2c3" stroke="#17a2c3" stroke-width="0.3">3</text>
<rect x="385.70" y="205.72" width="8.00" height="1.35" fill="#17a2c3"/><rect x="385.70" y="208.72" width="8.00" height="1.35" fill="#17a2c3"/>
<rect x="399.50" y="257.05" width="32.2" height="32.2" rx="3.2" fill="#fffafc" stroke="#e088b7" stroke-width="0.8"/>
<use href="#snail" x="399.50" y="257.05"/>
<text transform="translate(353.50,278.55) scale(0.84,1)" text-anchor="middle" font-size="15.0" fill="#17a2c3" stroke="#17a2c3" stroke-width="0.3">7</text>
<rect x="362.30" y="273.70" width="8.00" height="1.3" fill="#17a2c3"/>
<text transform="translate(377.60,278.55) scale(0.84,1)" text-anchor="middle" font-size="15.0" fill="#17a2c3" stroke="#17a2c3" stroke-width="0.3">6</text>
<rect x="385.70" y="272.48" width="8.00" height="1.35" fill="#17a2c3"/><rect x="385.70" y="275.48" width="8.00" height="1.35" fill="#17a2c3"/>
<rect x="399.50" y="323.80" width="32.2" height="32.2" rx="3.2" fill="#fffafc" stroke="#e088b7" stroke-width="0.8"/>
<use href="#snail" x="399.50" y="323.80"/>
<text transform="translate(351.10,345.30) scale(0.88,1)" text-anchor="middle" font-size="15.0" fill="#17a2c3" stroke="#17a2c3" stroke-width="0.3">1</text>
<text transform="translate(359.00,345.30) scale(1.08,1)" text-anchor="middle" font-size="15.0" fill="#17a2c3" stroke="#17a2c3" stroke-width="0.3">0</text>
<rect x="366.70" y="340.45" width="8.20" height="1.3" fill="#17a2c3"/>
<text transform="translate(381.30,345.30) scale(0.84,1)" text-anchor="middle" font-size="15.0" fill="#17a2c3" stroke="#17a2c3" stroke-width="0.3">2</text>
<rect x="388.70" y="339.23" width="8.00" height="1.35" fill="#17a2c3"/><rect x="388.70" y="342.23" width="8.00" height="1.35" fill="#17a2c3"/>
<rect x="399.50" y="390.55" width="32.2" height="32.2" rx="3.2" fill="#fffafc" stroke="#e088b7" stroke-width="0.8"/>
<use href="#snail" x="399.50" y="390.55"/>
<text transform="translate(353.50,412.05) scale(0.84,1)" text-anchor="middle" font-size="15.0" fill="#17a2c3" stroke="#17a2c3" stroke-width="0.3">8</text>
<rect x="362.30" y="407.20" width="8.00" height="1.3" fill="#17a2c3"/>
<text transform="translate(377.60,412.05) scale(0.84,1)" text-anchor="middle" font-size="15.0" fill="#17a2c3" stroke="#17a2c3" stroke-width="0.3">4</text>
<rect x="385.70" y="405.98" width="8.00" height="1.35" fill="#17a2c3"/><rect x="385.70" y="408.98" width="8.00" height="1.35" fill="#17a2c3"/>
<rect x="399.50" y="457.30" width="32.2" height="32.2" rx="3.2" fill="#fffafc" stroke="#e088b7" stroke-width="0.8"/>
<use href="#snail" x="399.50" y="457.30"/>
<text transform="translate(351.10,478.80) scale(0.88,1)" text-anchor="middle" font-size="15.0" fill="#17a2c3" stroke="#17a2c3" stroke-width="0.3">1</text>
<text transform="translate(359.00,478.80) scale(1.08,1)" text-anchor="middle" font-size="15.0" fill="#17a2c3" stroke="#17a2c3" stroke-width="0.3">0</text>
<rect x="366.70" y="473.95" width="8.20" height="1.3" fill="#17a2c3"/>
<text transform="translate(381.30,478.80) scale(0.84,1)" text-anchor="middle" font-size="15.0" fill="#17a2c3" stroke="#17a2c3" stroke-width="0.3">1</text>
<rect x="388.70" y="472.73" width="8.00" height="1.35" fill="#17a2c3"/><rect x="388.70" y="475.73" width="8.00" height="1.35" fill="#17a2c3"/>
<rect x="550.00" y="190.30" width="32.2" height="32.2" rx="3.2" fill="#fffafc" stroke="#e088b7" stroke-width="0.8"/>
<use href="#frog" x="550.00" y="190.30"/>
<text transform="translate(500.60,211.80) scale(0.88,1)" text-anchor="middle" font-size="15.0" fill="#17a2c3" stroke="#17a2c3" stroke-width="0.3">1</text>
<text transform="translate(508.10,211.80) scale(1.08,1)" text-anchor="middle" font-size="15.0" fill="#17a2c3" stroke="#17a2c3" stroke-width="0.3">0</text>
<rect x="517.40" y="206.95" width="8.30" height="1.3" fill="#17a2c3"/>
<text transform="translate(532.20,211.80) scale(0.84,1)" text-anchor="middle" font-size="15.0" fill="#17a2c3" stroke="#17a2c3" stroke-width="0.3">7</text>
<rect x="540.80" y="205.72" width="7.70" height="1.35" fill="#17a2c3"/><rect x="540.80" y="208.72" width="7.70" height="1.35" fill="#17a2c3"/>
<rect x="550.00" y="257.05" width="32.2" height="32.2" rx="3.2" fill="#fffafc" stroke="#e088b7" stroke-width="0.8"/>
<use href="#frog" x="550.00" y="257.05"/>
<text transform="translate(504.00,278.55) scale(0.84,1)" text-anchor="middle" font-size="15.0" fill="#17a2c3" stroke="#17a2c3" stroke-width="0.3">9</text>
<rect x="512.80" y="273.70" width="8.00" height="1.3" fill="#17a2c3"/>
<text transform="translate(528.10,278.55) scale(0.84,1)" text-anchor="middle" font-size="15.0" fill="#17a2c3" stroke="#17a2c3" stroke-width="0.3">7</text>
<rect x="536.20" y="272.48" width="8.00" height="1.35" fill="#17a2c3"/><rect x="536.20" y="275.48" width="8.00" height="1.35" fill="#17a2c3"/>
<rect x="550.00" y="323.80" width="32.2" height="32.2" rx="3.2" fill="#fffafc" stroke="#e088b7" stroke-width="0.8"/>
<use href="#frog" x="550.00" y="323.80"/>
<text transform="translate(504.00,345.30) scale(0.84,1)" text-anchor="middle" font-size="15.0" fill="#17a2c3" stroke="#17a2c3" stroke-width="0.3">8</text>
<rect x="512.80" y="340.45" width="8.00" height="1.3" fill="#17a2c3"/>
<text transform="translate(528.10,345.30) scale(0.84,1)" text-anchor="middle" font-size="15.0" fill="#17a2c3" stroke="#17a2c3" stroke-width="0.3">1</text>
<rect x="536.20" y="339.23" width="8.00" height="1.35" fill="#17a2c3"/><rect x="536.20" y="342.23" width="8.00" height="1.35" fill="#17a2c3"/>
<rect x="550.00" y="390.55" width="32.2" height="32.2" rx="3.2" fill="#fffafc" stroke="#e088b7" stroke-width="0.8"/>
<use href="#frog" x="550.00" y="390.55"/>
<text transform="translate(500.60,412.05) scale(0.88,1)" text-anchor="middle" font-size="15.0" fill="#17a2c3" stroke="#17a2c3" stroke-width="0.3">1</text>
<text transform="translate(508.10,412.05) scale(1.08,1)" text-anchor="middle" font-size="15.0" fill="#17a2c3" stroke="#17a2c3" stroke-width="0.3">0</text>
<rect x="517.40" y="407.20" width="8.30" height="1.3" fill="#17a2c3"/>
<text transform="translate(532.20,412.05) scale(0.84,1)" text-anchor="middle" font-size="15.0" fill="#17a2c3" stroke="#17a2c3" stroke-width="0.3">5</text>
<rect x="540.80" y="405.98" width="7.70" height="1.35" fill="#17a2c3"/><rect x="540.80" y="408.98" width="7.70" height="1.35" fill="#17a2c3"/>
<rect x="550.00" y="457.30" width="32.2" height="32.2" rx="3.2" fill="#fffafc" stroke="#e088b7" stroke-width="0.8"/>
<use href="#frog" x="550.00" y="457.30"/>
<text transform="translate(504.00,478.80) scale(0.84,1)" text-anchor="middle" font-size="15.0" fill="#17a2c3" stroke="#17a2c3" stroke-width="0.3">9</text>
<rect x="512.80" y="473.95" width="8.00" height="1.3" fill="#17a2c3"/>
<text transform="translate(528.10,478.80) scale(0.84,1)" text-anchor="middle" font-size="15.0" fill="#17a2c3" stroke="#17a2c3" stroke-width="0.3">1</text>
<rect x="536.20" y="472.73" width="8.00" height="1.35" fill="#17a2c3"/><rect x="536.20" y="475.73" width="8.00" height="1.35" fill="#17a2c3"/>
<path d="M431.9 222.6 L443.85 357" stroke="#d6439a" stroke-width="0.8" fill="none"/>
<path d="M444.2 359.9 L442.3 355.9 L445.3 355.6 Z" fill="#d22f8c"/>
</svg>
</body></html>
